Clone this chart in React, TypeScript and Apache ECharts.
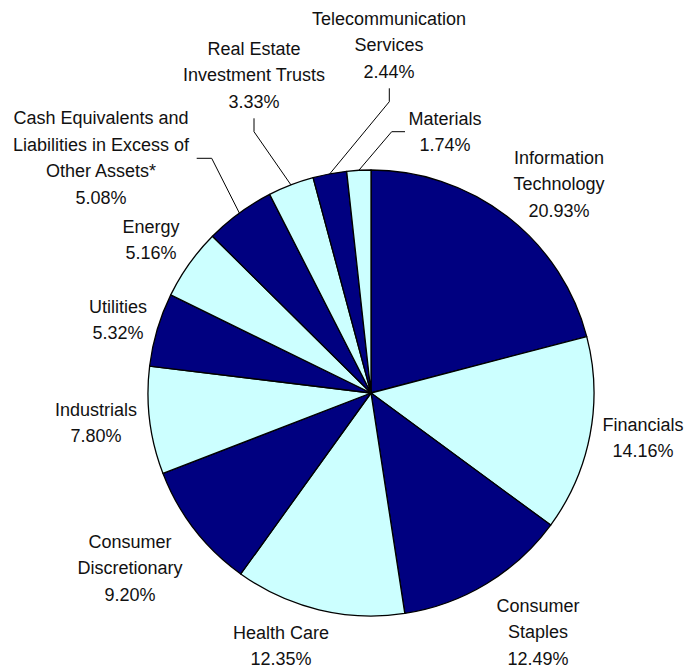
import React, { useEffect, useRef } from "react";
import * as echarts from "echarts";

const categories = [
  "Information\nTechnology",
  "Financials",
  "Consumer\nStaples",
  "Health Care",
  "Consumer\nDiscretionary",
  "Industrials",
  "Utilities",
  "Energy",
  "Cash Equivalents and\nLiabilities in Excess of\nOther Assets*",
  "Real Estate\nInvestment Trusts",
  "Telecommunication\nServices",
  "Materials",
];
const values = [20.93, 14.16, 12.49, 12.35, 9.2, 7.8, 5.32, 5.16, 5.08, 3.33, 2.44, 1.74];

const DARK = "#000080";
const LIGHT = "#CCFFFF";

// label block centres (layout only)
const labelPos: [number, number][] = [
  [559, 184],
  [643, 438],
  [538, 632],
  [281, 646],
  [130, 568],
  [96, 423],
  [118, 320],
  [151, 240],
  [101, 158],
  [254, 75],
  [389, 45],
  [445, 132],
];
// leader line elbows/ends (layout only) for labels that have them
const leader: Record<number, [number, number][]> = {
  8: [
    [211.7, 158.3],
    [196.7, 158.3],
  ],
  9: [
    [254, 131.7],
    [254, 118.3],
  ],
  10: [
    [389.3, 101.7],
    [389.3, 88.3],
  ],
  11: [
    [391.7, 131.7],
    [405, 131.7],
  ],
};

export default function App() {
  const ref = useRef<HTMLDivElement>(null);
  useEffect(() => {
    if (!ref.current) return;
    const chart = echarts.init(ref.current, null, { renderer: "svg" });
    chart.setOption({
      animation: false,
      backgroundColor: "#ffffff",
      series: [
        {
          type: "pie",
          center: [371, 393],
          radius: 223,
          startAngle: 90,
          clockwise: true,
          avoidLabelOverlap: false,
          itemStyle: { borderColor: "#000", borderWidth: 1.3 },
          label: {
            show: true,
            position: "outside",
            formatter: (p: any) => `${p.name}\n${Number(p.value).toFixed(2)}%`,
            fontFamily: "Liberation Sans, Arial, sans-serif",
            fontSize: 18,
            lineHeight: 26.5,
            color: "#111",
            align: "center",
          },
          labelLine: { show: false, lineStyle: { color: "#000", width: 1 } },
          labelLayout: (params: any) => {
            const i = params.dataIndex;
            const [x, y] = labelPos[i];
            const res: any = { x, y, align: "center", verticalAlign: "middle" };
            if (leader[i] && params.labelLinePoints) {
              const start = params.labelLinePoints[0];
              res.labelLinePoints = [start, leader[i][0], leader[i][1]];
            }
            return res;
          },
          data: categories.map((name, i) => ({
            name,
            value: values[i],
            itemStyle: { color: i % 2 === 0 ? DARK : LIGHT },
            labelLine: { show: leader[i] !== undefined, length: 10, length2: 10 },
          })),
        },
      ],
    });
    return () => chart.dispose();
  }, []);
  return (
    <div
      ref={ref}
      style={{ position: "fixed", left: 0, top: 0, width: 686, height: 668 }}
    />
  );
}
